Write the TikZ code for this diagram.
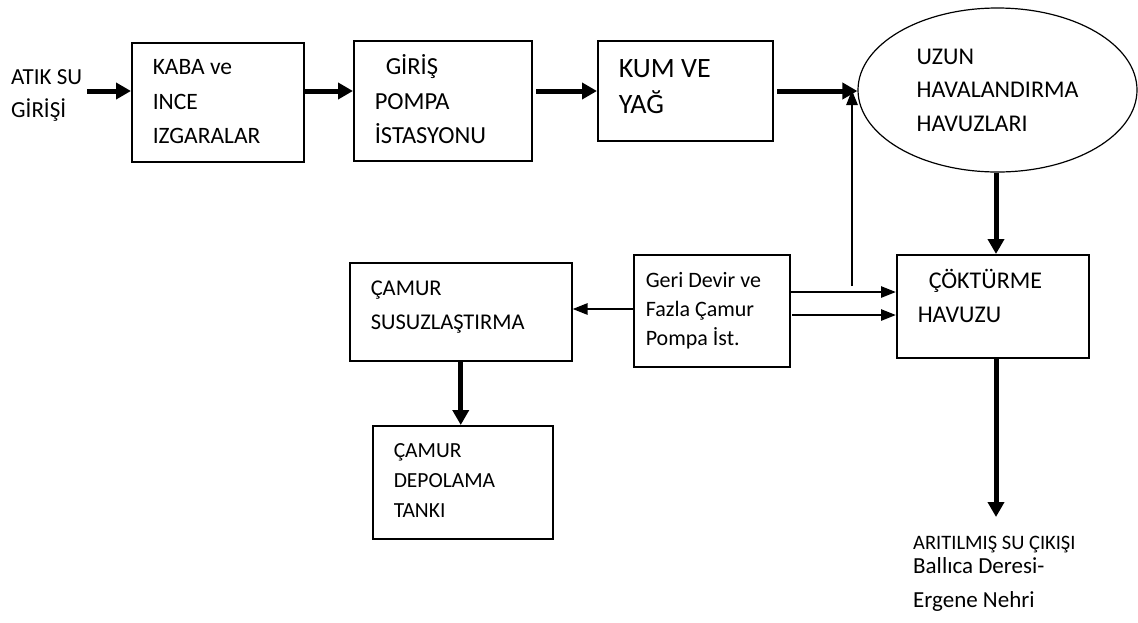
\documentclass[tikz,border=0pt]{standalone}
\usepackage{fontspec}
\setmainfont{Carlito}
\usetikzlibrary{arrows.meta,shapes.geometric}

\tikzset{
  box/.style={draw, line width=1.5pt, anchor=north west, inner xsep=21pt,
    inner ysep=0pt, align=flush left},
  flow/.style={line width=5pt, -{Triangle[length=15pt,width=16pt]}},
  thinflow/.style={line width=2.6pt, -{Triangle[length=15pt,width=11pt]}}
}

\begin{document}
\begin{tikzpicture}[x=1pt, y=-1pt]
  \useasboundingbox (0,0) rectangle (1138,622);

  % water line
  \node[anchor=base west, inner sep=0pt, text width=90pt, align=flush left,
    font=\fontsize{23}{33}\selectfont] (inlet) at (11,84) {ATIK SU\\GİRİŞİ};
  \node[box, text width=130pt, text height=32pt, text depth=87pt,
    font=\fontsize{23.5}{34.5}\selectfont] (screens) at (131,42)
    {KABA ve\\INCE\\IZGARALAR};
  \node[box, text width=136pt, text height=34pt, text depth=86pt,
    font=\fontsize{24.5}{34.5}\selectfont] (giris) at (353,40)
    {\hspace*{11pt}GİRİŞ\\POMPA\\İSTASYONU};
  \node[box, text width=133pt, text height=37pt, text depth=63pt,
    font=\fontsize{28}{36}\selectfont] (kum) at (597,40) {KUM VE\\YAĞ};
  \node[draw, ellipse, line width=1.2pt, inner sep=0pt, minimum width=279pt,
    minimum height=164pt, align=flush left, font=\fontsize{24}{33.5}\selectfont]
    (basin) at (997.5,90) {UZUN\\HAVALANDIRMA\\HAVUZLARI};
  \node[box, text width=150pt, text height=34pt, text depth=69pt,
    font=\fontsize{24}{34}\selectfont] (settler) at (896,254)
    {\hspace*{11pt}ÇÖKTÜRME\\HAVUZU};
  \node[anchor=base west, inner sep=0pt, text width=220pt, align=flush left,
    font=\fontsize{23}{34}\selectfont] (outlet) at (913,549)
    {{\fontsize{20.5}{34}\selectfont ARITILMIŞ SU ÇIKIŞI}\\[-10pt]Ballıca Deresi-\\Ergene Nehri};

  % sludge line
  \node[box, inner xsep=12pt, text width=132pt, text height=33pt, text depth=79pt,
    font=\fontsize{22}{29}\selectfont] (pump) at (633,254)
    {Geri Devir ve\\Fazla Çamur\\Pompa İst.};
  \node[box, text width=180pt, text height=33pt, text depth=65pt,
    font=\fontsize{22.5}{34}\selectfont] (dewater) at (349,262)
    {ÇAMUR\\SUSUZLAŞTIRMA};
  \node[box, text width=138pt, text height=32pt, text depth=81pt,
    font=\fontsize{21.5}{30}\selectfont] (tank) at (372,425)
    {ÇAMUR\\DEPOLAMA\\TANKI};

  % connectors
  \coordinate (in) at (87,91);
  \coordinate (g) at (536,91);
  \coordinate (k) at (777,91);
  \coordinate (r) at (852,286);
  \coordinate (p1) at (789,292);
  \coordinate (p2) at (792,315);
  \coordinate (p3) at (633,309);
  \coordinate (o) at (996,517);

  \draw[flow] (in) -- (in -| screens.west);
  \draw[flow] (screens.east |- in) -- (giris.west |- in);
  \draw[flow] (g) -- (g -| kum.west);
  \draw[flow] (k) -- (k -| basin.west);
  \draw[thinflow] (r) -- (r |- basin.west);
  \draw[flow] (basin.south -| o) -- (o |- settler.north);
  \draw[thinflow] (p1) -- (p1 -| settler.west);
  \draw[thinflow] (p2) -- (p2 -| settler.west);
  \draw[thinflow] (p3) -- (p3 -| dewater.east);
  \draw[flow] (dewater.south) -- (dewater.south |- tank.north);
  \draw[flow] (settler.south -| o) -- (o);
\end{tikzpicture}
\end{document}
